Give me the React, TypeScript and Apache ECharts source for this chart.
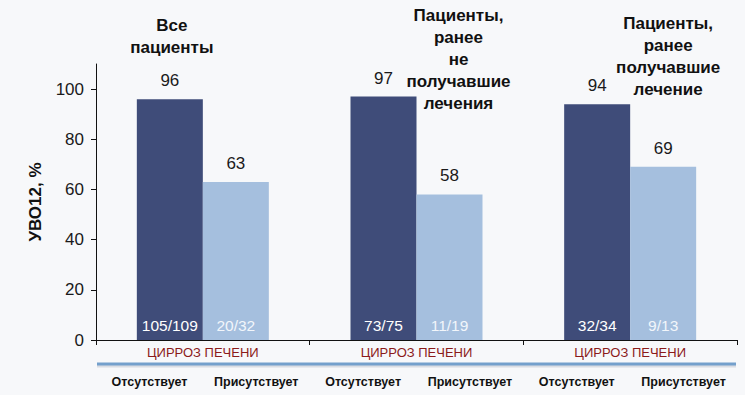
import React, { useEffect, useRef } from "react";
import * as echarts from "echarts";

const groupCategories = ["ЦИРРОЗ ПЕЧЕНИ", "ЦИРРОЗ ПЕЧЕНИ", "ЦИРРОЗ ПЕЧЕНИ"];
const groupTitles = [
  "Все\nпациенты",
  "Пациенты,\nранее\nне\nполучавшие\nлечения",
  "Пациенты,\nранее\nполучавшие\nлечение",
];
const subCategories = [
  "Отсутствует", "Присутствует",
  "Отсутствует", "Присутствует",
  "Отсутствует", "Присутствует",
];
const absentValues = [96, 97, 94];
const presentValues = [63, 58, 69];
const absentCounts = ["105/109", "73/75", "32/34"];
const presentCounts = ["20/32", "11/19", "9/13"];
const zeroCaps = [0, 0, 0];
const yTicks = [0, 20, 40, 60, 80, 100];
const yAxisName = "УВО12, %";

const FONT = "Liberation Sans, Arial, sans-serif";
const DARK = "#3f4c79";
const LIGHT = "#a5bfde";

export default function App() {
  const ref = useRef<HTMLDivElement>(null);

  useEffect(() => {
    if (!ref.current) return;
    const chart = echarts.init(ref.current, undefined, { renderer: "svg" });

    const topLabel = (vals: number[]) => ({
      show: true,
      position: "top" as const,
      distance: 10,
      fontSize: 17,
      fontFamily: FONT,
      color: "#1a1a1a",
      formatter: (p: any) => String(vals[p.dataIndex]),
    });

    const gridLeft = 96;
    const gridRight = 8;

    chart.setOption({
      animation: false,
      backgroundColor: "#f7f8fa",
      textStyle: { fontFamily: FONT },
      grid: { left: gridLeft, right: gridRight, top: 64, bottom: 55 },
      xAxis: [
        {
          type: "category",
          data: groupCategories,
          position: "bottom",
          axisLine: { lineStyle: { color: "#111", width: 1 } },
          axisTick: { show: true, length: 5, lineStyle: { color: "#111" } },
          axisLabel: { margin: 6, fontSize: 13, color: "#8b1a1a", fontFamily: FONT },
        },
        {
          type: "category",
          data: subCategories,
          position: "bottom",
          offset: 0,
          axisLine: { show: false },
          axisTick: { show: false },
          axisLabel: { margin: 35, fontSize: 12.5, fontWeight: "bold", color: "#111", fontFamily: FONT, interval: 0 },
        },
      ],
      yAxis: {
        type: "value",
        min: 0,
        max: 110,
        interval: 20,
        name: yAxisName,
        nameLocation: "middle",
        nameGap: 52,
        nameTextStyle: { fontSize: 17, fontWeight: "bold", color: "#111", fontFamily: FONT },
        axisLine: { show: true, lineStyle: { color: "#111" } },
        axisTick: { show: true, length: 5, customValues: yTicks, lineStyle: { color: "#111" } },
        axisLabel: { margin: 12, fontSize: 17, color: "#1a1a1a", fontFamily: FONT, customValues: yTicks },
        splitLine: { show: false },
      },
      series: [
        {
          type: "bar",
          stack: "absent",
          data: absentValues,
          barWidth: 66,
          barGap: "0%",
          itemStyle: { color: DARK },
          label: {
            show: true,
            position: "insideBottom",
            distance: 7,
            fontSize: 15.5,
            color: "#ffffff",
            fontFamily: FONT,
            formatter: (p: any) => absentCounts[p.dataIndex],
          },
        },
        {
          type: "bar",
          stack: "absent",
          data: zeroCaps,
          barWidth: 66,
          barGap: "0%",
          itemStyle: { color: DARK },
          label: topLabel(absentValues),
        },
        {
          type: "bar",
          stack: "present",
          data: presentValues,
          barWidth: 66,
          barGap: "0%",
          itemStyle: { color: LIGHT },
          label: {
            show: true,
            position: "insideBottom",
            distance: 7,
            fontSize: 15.5,
            color: "#f2f6fb",
            fontFamily: FONT,
            formatter: (p: any) => presentCounts[p.dataIndex],
          },
        },
        {
          type: "bar",
          stack: "present",
          data: zeroCaps,
          barWidth: 66,
          barGap: "0%",
          itemStyle: { color: LIGHT },
          label: topLabel(presentValues),
        },
      ],
    });

    const titleOffsets = [-31, 42, 38];
    const titleTops = [14, 4, 12];
    const graphics: any[] = groupTitles.map((t, i) => {
      const cx = chart.convertToPixel({ xAxisIndex: 0 }, i) as unknown as number;
      return {
        type: "text",
        x: cx + titleOffsets[i],
        y: titleTops[i],
        style: {
          text: t,
          textAlign: "center",
          textVerticalAlign: "top",
          font: `bold 17px ${FONT}`,
          lineHeight: 22,
          fill: "#111",
        },
      };
    });
    const zeroY = chart.convertToPixel({ yAxisIndex: 0 }, 0) as unknown as number;
    const lineY = zeroY + 24;
    graphics.push({
      type: "line",
      shape: { x1: gridLeft + 1, y1: lineY + 2, x2: chart.getWidth() - gridRight - 1, y2: lineY + 2 },
      style: { stroke: "rgba(90,100,120,0.18)", lineWidth: 3 },
      silent: true,
    });
    graphics.push({
      type: "line",
      shape: { x1: gridLeft + 1, y1: lineY, x2: chart.getWidth() - gridRight - 1, y2: lineY },
      style: { stroke: "#74a0cc", lineWidth: 3 },
      silent: true,
    });
    chart.setOption({ graphic: graphics });

    return () => chart.dispose();
  }, []);

  return <div ref={ref} style={{ width: 745, height: 395, position: "absolute", left: 0, top: 0 }} />;
}
